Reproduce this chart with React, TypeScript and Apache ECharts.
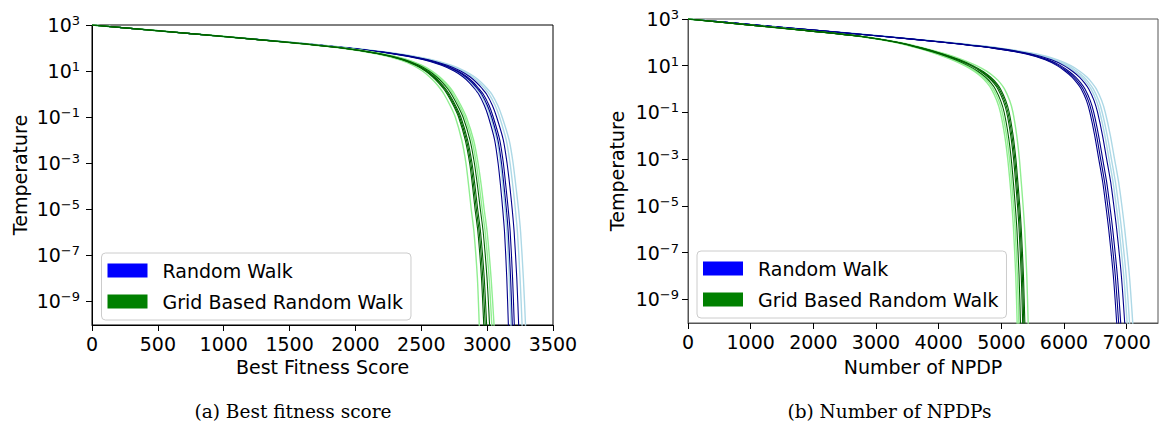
import React, { useEffect, useRef } from "react";
import * as echarts from "echarts";

// Temperature levels (shared sampling levels of every run): 10^3 ... 10^-11
const tempLevels = [1000, 562.3, 316.2, 177.8, 100, 56.23, 31.62, 17.78, 10, 5.623, 3.162, 1.778, 1, 0.3162, 0.1, 0.01, 1e-3, 1e-4, 1e-5, 1e-6, 1e-8, 1e-10, 1e-11];

// (a) Best fitness score reached at each temperature level, per run
const fitnessRandomWalkLight = [
  [0, 503, 1006, 1510, 1965, 2322, 2570, 2726, 2831, 2904, 2956, 2998, 3035, 3081, 3114, 3167, 3197, 3218, 3238, 3254, 3275, 3291, 3297],
  [0, 502, 1004, 1506, 1959, 2314, 2558, 2712, 2815, 2886, 2938, 2979, 3015, 3061, 3094, 3145, 3174, 3195, 3214, 3230, 3250, 3265, 3271],
  [0, 498, 996, 1493, 1940, 2284, 2519, 2665, 2761, 2829, 2877, 2916, 2950, 2994, 3025, 3074, 3100, 3119, 3136, 3150, 3168, 3181, 3187],
];
const fitnessRandomWalkDark = [
  [0, 497, 994, 1490, 1935, 2278, 2510, 2654, 2749, 2816, 2864, 2902, 2935, 2979, 3010, 3057, 3083, 3102, 3118, 3132, 3149, 3161, 3167],
  [0, 499, 998, 1497, 1946, 2293, 2531, 2679, 2778, 2847, 2896, 2935, 2970, 3015, 3046, 3096, 3123, 3142, 3160, 3175, 3193, 3206, 3212],
  [0, 501, 1001, 1502, 1953, 2304, 2546, 2697, 2798, 2869, 2919, 2960, 2995, 3040, 3072, 3123, 3151, 3172, 3190, 3205, 3225, 3239, 3245],
  [0, 498, 997, 1495, 1942, 2288, 2524, 2671, 2768, 2836, 2885, 2924, 2958, 3002, 3034, 3082, 3109, 3128, 3146, 3160, 3178, 3191, 3197],
];
const fitnessGridLight = [
  [0, 497, 994, 1470, 1885, 2158, 2332, 2438, 2509, 2562, 2606, 2642, 2672, 2719, 2758, 2807, 2839, 2860, 2879, 2900, 2926, 2940, 2947],
  [0, 503, 1006, 1490, 1915, 2202, 2388, 2502, 2581, 2638, 2684, 2722, 2752, 2801, 2842, 2897, 2931, 2956, 2977, 3000, 3030, 3052, 3061],
  [0, 502, 1004, 1487, 1910, 2196, 2379, 2493, 2570, 2627, 2672, 2710, 2740, 2789, 2830, 2884, 2917, 2941, 2962, 2985, 3015, 3035, 3044],
];
const fitnessGridDark = [
  [0, 499, 998, 1476, 1894, 2171, 2349, 2457, 2531, 2585, 2629, 2666, 2696, 2744, 2783, 2834, 2867, 2889, 2908, 2930, 2957, 2974, 2981],
  [0, 501, 1002, 1484, 1906, 2189, 2371, 2483, 2559, 2615, 2661, 2698, 2728, 2776, 2817, 2870, 2903, 2927, 2948, 2970, 2999, 3018, 3027],
  [0, 500, 1000, 1480, 1900, 2180, 2360, 2470, 2545, 2600, 2645, 2682, 2712, 2760, 2800, 2852, 2885, 2908, 2928, 2950, 2978, 2996, 3004],
  [0, 499, 999, 1478, 1897, 2176, 2354, 2464, 2538, 2592, 2637, 2674, 2704, 2752, 2791, 2843, 2876, 2898, 2918, 2940, 2967, 2985, 2992],
];

// (b) Number of NPDP reached at each temperature level, per run
const npdpRandomWalkLight = [
  [0, 1055, 2113, 3173, 4140, 4980, 5563, 5900, 6110, 6256, 6369, 6450, 6515, 6601, 6658, 6740, 6806, 6872, 6923, 6968, 7043, 7096, 7116],
  [0, 1053, 2108, 3164, 4124, 4956, 5530, 5860, 6066, 6210, 6321, 6402, 6467, 6553, 6609, 6690, 6756, 6821, 6872, 6917, 6992, 7045, 7065],
  [0, 1052, 2104, 3157, 4112, 4938, 5505, 5830, 6033, 6175, 6286, 6366, 6431, 6516, 6572, 6653, 6718, 6783, 6833, 6878, 6953, 7006, 7026],
];
const npdpRandomWalkDark = [
  [0, 1045, 2087, 3127, 4060, 4860, 5397, 5700, 5890, 6024, 6131, 6210, 6275, 6359, 6412, 6490, 6554, 6618, 6667, 6712, 6787, 6840, 6860],
  [0, 1047, 2094, 3139, 4080, 4890, 5439, 5750, 5945, 6082, 6190, 6270, 6335, 6419, 6474, 6552, 6617, 6681, 6731, 6776, 6851, 6904, 6924],
  [0, 1050, 2100, 3150, 4100, 4920, 5480, 5800, 6000, 6140, 6250, 6330, 6395, 6480, 6535, 6615, 6680, 6745, 6795, 6840, 6915, 6968, 6988],
  [0, 1046, 2090, 3133, 4070, 4874, 5417, 5724, 5916, 6052, 6160, 6239, 6304, 6388, 6442, 6520, 6584, 6648, 6698, 6743, 6818, 6871, 6891],
];
const npdpGridLight = [
  [0, 956, 1890, 2750, 3300, 3670, 3970, 4215, 4415, 4570, 4687, 4775, 4840, 4927, 4985, 5054, 5102, 5138, 5169, 5194, 5230, 5252, 5262],
  [0, 964, 1910, 2790, 3360, 3770, 4110, 4385, 4605, 4770, 4893, 4985, 5050, 5133, 5185, 5246, 5288, 5318, 5347, 5372, 5406, 5428, 5438],
  [0, 957, 1893, 2756, 3309, 3685, 3991, 4240, 4443, 4600, 4718, 4806, 4871, 4958, 5015, 5083, 5130, 5165, 5196, 5221, 5256, 5279, 5289],
];
const npdpGridDark = [
  [0, 958, 1896, 2762, 3318, 3700, 4012, 4266, 4472, 4630, 4749, 4838, 4903, 4989, 5045, 5112, 5158, 5192, 5222, 5248, 5283, 5305, 5315],
  [0, 962, 1904, 2778, 3342, 3740, 4068, 4334, 4548, 4710, 4831, 4922, 4987, 5071, 5125, 5188, 5232, 5264, 5294, 5318, 5353, 5375, 5385],
  [0, 960, 1900, 2770, 3330, 3720, 4040, 4300, 4510, 4670, 4790, 4880, 4945, 5030, 5085, 5150, 5195, 5228, 5258, 5283, 5318, 5340, 5350],
  [0, 961, 1902, 2774, 3336, 3730, 4054, 4317, 4529, 4690, 4811, 4901, 4966, 5051, 5105, 5169, 5214, 5246, 5276, 5301, 5336, 5358, 5368],
];

const legendNames = ["Random Walk", "Grid Based Random Walk"];
const legendColors = ["#0000ff", "#008000"];
const yTickExponents = [-9, 3]; // labelled decades: 10^-9 ... 10^3, every 2
const yAxisMin = 9.1e-11;
const yAxisMax = 1000;

const FONT = "DejaVu Sans";

function runSeries(runs: number[][], color: string, axis: number, width: number) {
  return runs.map((r) => ({
    type: "line",
    xAxisIndex: axis,
    yAxisIndex: axis,
    data: r.map((x, i) => [x, tempLevels[i]]),
    showSymbol: false,
    symbol: "none",
    smooth: 0.25,
    silent: true,
    lineStyle: { color, width },
    itemStyle: { color },
    z: 2,
  }));
}

function expLabel(v: number) {
  const e = v < 0 ? "\u2212" + -v : String(v);
  return "{b|10}{s|" + e + "}";
}

export default function App() {
  const ref = useRef<HTMLDivElement>(null);
  useEffect(() => {
    if (!ref.current) return;
    const chart = echarts.init(ref.current, undefined, { renderer: "svg" });
    const labelRich = {
      b: { fontSize: 19, fontFamily: FONT, color: "#000" },
      s: { fontSize: 13, fontFamily: FONT, color: "#000", padding: [0, 0, 9, 0] },
    };
    const xAxisCommon = (color: string, showMax: boolean) => ({
      type: "value",
      axisLine: { show: true, lineStyle: { color, width: 1 } },
      axisTick: { show: true, length: 6, lineStyle: { color: "#000" } },
      axisLabel: {
        fontSize: 19,
        fontFamily: FONT,
        color: "#000",
        margin: 9,
        showMaxLabel: showMax,
        showMinLabel: true,
        formatter: (v: number) => String(v),
      },
      splitLine: { show: false },
    });
    const yLogAxis = (grid: number, color: string) => ({
      type: "log",
      logBase: 10,
      gridIndex: grid,
      min: yAxisMin,
      max: yAxisMax,
      axisLine: { show: true, lineStyle: { color, width: 1 } },
      axisTick: { show: false },
      axisLabel: { show: false },
      splitLine: { show: false },
      minorTick: { show: false },
    });
    const yLabelAxis = (grid: number, margin: number) => ({
      type: "value",
      gridIndex: grid,
      min: yTickExponents[0],
      max: yTickExponents[1],
      interval: 2,
      axisLine: { show: false },
      axisTick: { show: true, length: 6, lineStyle: { color: "#000" } },
      axisLabel: { margin, formatter: expLabel, rich: labelRich, align: "right" },
      splitLine: { show: false },
    });
    const legendCommon = {
      orient: "vertical",
      data: legendNames,
      icon: "rect",
      itemWidth: 40,
      itemHeight: 14,
      itemGap: 12,
      padding: [8, 8, 9, 6],
      backgroundColor: "#fff",
      borderColor: "#cccccc",
      borderWidth: 1,
      borderRadius: 4,
      selectedMode: false,
      textStyle: { fontSize: 19, fontFamily: FONT, color: "#000", padding: [0, 0, 0, 10] },
    };
    const textStyle = (text: string, font: string, size: number) => ({
      text,
      fill: "#000",
      font: `${size}px "${font}"`,
      align: "center",
      verticalAlign: "middle",
    });

    chart.setOption({
      animation: false,
      backgroundColor: "#fff",
      grid: [
        { left: 92, top: 25, width: 461, height: 300, show: true, borderColor: "#000", borderWidth: 1, backgroundColor: "transparent", containLabel: false },
        { left: 92, top: 25, width: 461, height: 276, show: false, containLabel: false },
        { left: 688, top: 19, width: 470, height: 304, show: true, borderColor: "#555", borderWidth: 1, backgroundColor: "transparent", containLabel: false },
        { left: 688, top: 19, width: 470, height: 280.2, show: false, containLabel: false },
      ],
      xAxis: [
        { ...xAxisCommon("#000", true), gridIndex: 0, min: 0, max: 3500, interval: 500 },
        { type: "value", gridIndex: 1, show: false, min: 0, max: 1 },
        { ...xAxisCommon("#555", false), gridIndex: 2, min: 0, max: 7500, interval: 1000 },
        { type: "value", gridIndex: 3, show: false, min: 0, max: 1 },
      ],
      yAxis: [yLogAxis(0, "#000"), yLabelAxis(1, 12), yLogAxis(2, "#555"), yLabelAxis(3, 9)],
      legend: [
        { ...legendCommon, left: 101.5, top: 253 },
        { ...legendCommon, left: 697, top: 251 },
      ],
      series: [
        { type: "line", name: legendNames[0], data: [], color: legendColors[0], xAxisIndex: 0, yAxisIndex: 0 },
        { type: "line", name: legendNames[1], data: [], color: legendColors[1], xAxisIndex: 0, yAxisIndex: 0 },
        ...runSeries(fitnessRandomWalkLight, "#add8e6", 0, 1.4),
        ...runSeries(fitnessRandomWalkDark, "#00008b", 0, 1.1),
        ...runSeries(fitnessGridLight, "#90ee90", 0, 1.4),
        ...runSeries(fitnessGridDark, "#006400", 0, 1.1),
        ...runSeries(npdpRandomWalkLight, "#add8e6", 2, 1.4),
        ...runSeries(npdpRandomWalkDark, "#00008b", 2, 1.1),
        ...runSeries(npdpGridLight, "#90ee90", 2, 1.4),
        ...runSeries(npdpGridDark, "#006400", 2, 1.1),
      ],
      graphic: [
        { type: "text", x: 322.5, y: 367.3, style: textStyle("Best Fitness Score", FONT, 19) },
        { type: "text", x: 923, y: 367.3, style: textStyle("Number of NPDP", FONT, 19) },
        { type: "text", x: 20, y: 175, rotation: Math.PI / 2, style: textStyle("Temperature", FONT, 19) },
        { type: "text", x: 617, y: 171, rotation: Math.PI / 2, style: textStyle("Temperature", FONT, 19) },
        { type: "text", x: 293, y: 411, style: textStyle("(a) Best fitness score", "DejaVu Serif", 18.5) },
        { type: "text", x: 889.5, y: 411, style: textStyle("(b) Number of NPDPs", "DejaVu Serif", 18.5) },
      ],
    });
    return () => chart.dispose();
  }, []);
  return <div ref={ref} style={{ position: "absolute", left: 0, top: 0, width: 1159, height: 422 }} />;
}
